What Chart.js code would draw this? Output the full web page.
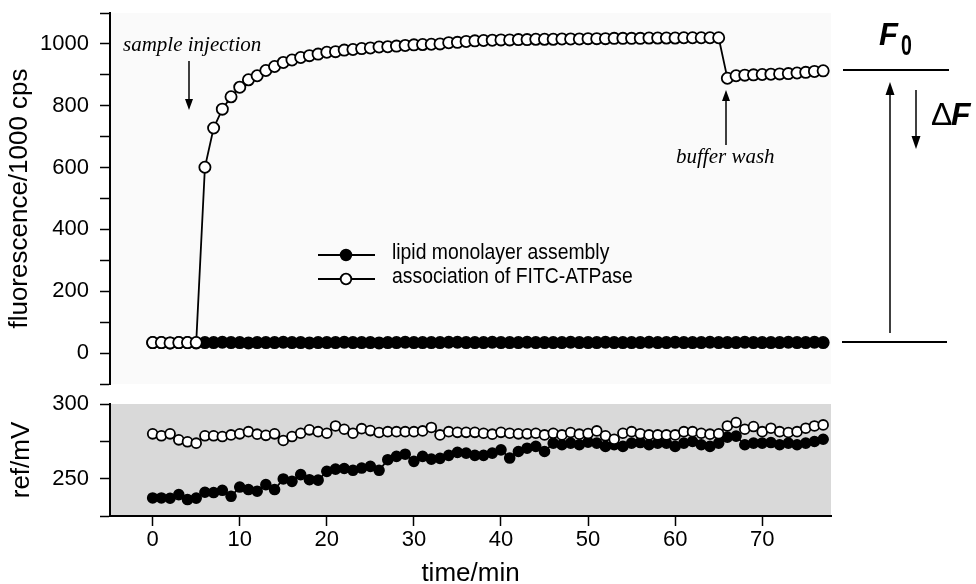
<!DOCTYPE html>
<html><head><meta charset="utf-8">
<script src="https://cdn.jsdelivr.net/npm/chart.js@4/dist/chart.umd.min.js"></script>
<style>
html,body{margin:0;padding:0;background:#fff;}
#wrap{position:relative;width:976px;height:584px;overflow:hidden;}
canvas{position:absolute;left:0;}
</style></head><body>
<div id="wrap">
<canvas id="topc" width="976" height="395" style="top:0"></canvas>
<canvas id="botc" width="976" height="196" style="top:388px"></canvas>
</div>
<script>
// ---- data ----
const time = [0,1,2,3,4,5,6,7,8,9,10,11,12,13,14,15,16,17,18,19,20,21,22,23,24,25,26,27,28,29,30,31,32,33,34,35,36,37,38,39,40,41,42,43,44,45,46,47,48,49,50,51,52,53,54,55,56,57,58,59,60,61,62,63,64,65,66,67,68,69,70,71,72,73,74,75,76,77];
const fluorAssoc = [34,34,33,34,34,34,
  601,728,789,829,860,884,897,914,927,940,948,956,962,967,973,
  975,980,982,985,987,990,991,993,995,997,998,999,1000,1004,1005,1008,1010,1011,1012,1013,
  1013,1014,1014,1015,1015,1015,1016,1016,1016,1017,1017,1017,1018,1018,1018,1018,1019,1019,1019,1019,1020,1020,1020,1020,1020,
  889,897,899,900,901,902,903,904,906,908,911,913];
const fluorLipid = [34,34,33,34,34,33,34,34,35,34,34,33,34,34,34,35,34,34,33,34,34,34,35,34,34,34,33,34,34,35,34,34,34,34,35,35,34,34,34,35,34,34,34,35,34,34,34,34,35,34,34,34,35,34,34,34,34,35,34,34,35,34,34,34,35,34,34,34,35,34,34,34,34,35,34,34,35,34];
const refAssoc = [280,278.7,280,276,274.7,273.8,278.7,278.7,278.2,279.3,280,281.5,279.8,279,280,275.6,278.2,280.4,282.7,281.5,280.4,285.3,
  283.1,280.4,283.5,282.2,280.9,281.5,281.5,281.5,281.5,282,284.3,279.3,281.5,281,281,281,280.4,279.8,281,280.4,280,280,280.4,279.3,280.4,279.3,280.9,279.8,280.2,
  282,278.7,276.4,280.4,281.5,280,279.3,279.3,279.3,279.3,281.5,281.5,280.4,279.8,280,285.3,287.6,283.1,284.9,281.5,283.8,281.5,280.9,281.5,283.8,285.3,286];
const refLipid = [237.1,237.1,236.9,239.3,236,237,240.9,240.7,242.2,238.2,244.4,242.7,241.6,246,242.7,249.8,248.2,252.7,249.3,249,254.9,256.4,256.8,
  255.6,257.1,258.2,255.6,262.7,264.9,266.4,261.6,264.9,263.1,263.6,265.6,267.6,267.1,265.6,265.6,267.1,269.3,263.8,268.2,270.4,271.6,268.2,273.8,272.7,273.8,272.7,274.5,
  273.8,271.6,272.7,271.6,273.8,274.2,272.7,273.8,273.8,271.6,273.8,274.9,272.7,271.6,273.8,277.8,278.5,272.7,273.8,273.8,274.2,272.7,273.8,272.7,273.8,274.9,276.4];
const fluorTicks = [-100,0,100,200,300,400,500,600,700,800,900,1000,1100];
const fluorLabels = [0,200,400,600,800,1000];
const refTicks = [225,250,275,300];
const refLabels = [250,300];
const timeTicks = [0,10,20,30,40,50,60,70];
const seriesNames = ['lipid monolayer assembly','association of FITC-ATPase'];

Chart.defaults.font.family = '"Liberation Sans", Arial, sans-serif';
Chart.defaults.color = '#000';

const pts = (ys) => time.map((t,i)=>({x:t,y:ys[i]}));

function arrow(ctx,x,y1,y2,hw,hl){
  const s = y2>y1?1:-1;
  ctx.beginPath(); ctx.moveTo(x,y1); ctx.lineTo(x,y2-s*hl*0.6); ctx.stroke();
  ctx.beginPath(); ctx.moveTo(x,y2); ctx.lineTo(x-hw,y2-s*hl); ctx.lineTo(x+hw,y2-s*hl); ctx.closePath(); ctx.fill();
}

const bgPlugin = (color) => ({
  id:'bg'+color.replace('#',''),
  beforeDraw(chart){
    const {ctx, chartArea:a} = chart;
    ctx.save(); ctx.fillStyle = color; ctx.fillRect(a.left, a.top, a.right-a.left, a.bottom-a.top); ctx.restore();
  }
});

const annoPlugin = {
  id:'anno',
  afterDraw(chart){
    const ctx = chart.ctx;
    ctx.save();
    ctx.strokeStyle='#000'; ctx.fillStyle='#000';
    // legend
    const items = [{y:255, filled:true, text:seriesNames[0]},{y:279, filled:false, text:seriesNames[1]}];
    items.forEach(it=>{
      ctx.lineWidth=1.8;
      ctx.beginPath(); ctx.moveTo(318,it.y); ctx.lineTo(375,it.y); ctx.stroke();
      ctx.beginPath(); ctx.arc(346,it.y,5.3,0,Math.PI*2);
      ctx.fillStyle = it.filled?'#000':'#fff'; ctx.fill(); ctx.stroke();
      ctx.save(); ctx.translate(392,it.y+4); ctx.scale(0.88,1);
      ctx.fillStyle='#000'; ctx.font='22px "Liberation Sans", Arial'; ctx.textBaseline='alphabetic';
      ctx.fillText(it.text,0,0); ctx.restore();
    });
    ctx.fillStyle='#000';
    // sample injection
    ctx.font='italic 21px "Liberation Serif", "Times New Roman", serif';
    ctx.textBaseline='alphabetic';
    ctx.fillText('sample injection',123,51);
    ctx.lineWidth=1.5;
    arrow(ctx,189,61,110,4,11);
    // buffer wash
    ctx.fillText('buffer wash',676,163);
    arrow(ctx,726,145,90,4,11);
    // right side F0 / dF
    ctx.lineWidth=1.8;
    ctx.beginPath(); ctx.moveTo(843,70); ctx.lineTo(949,70); ctx.stroke();
    ctx.beginPath(); ctx.moveTo(842,342); ctx.lineTo(947,342); ctx.stroke();
    ctx.lineWidth=1.5;
    arrow(ctx,890,333,82,4.5,13);
    arrow(ctx,916,90,149,4.5,13);
    ctx.font='italic bold 31px "Liberation Sans", Arial';
    ctx.fillText('F',879,45);
    ctx.save(); ctx.translate(901,55); ctx.scale(0.65,1);
    ctx.font='bold 30px "Liberation Sans", Arial'; ctx.fillText('0',0,0); ctx.restore();
    ctx.font='32px "Liberation Sans", Arial';
    ctx.fillText('\u0394',931,125);
    ctx.font='italic bold 32px "Liberation Sans", Arial';
    ctx.fillText('F',951,125);
    ctx.restore();
  }
};

const whiteStyle = (r)=>({borderColor:'#000', borderWidth:1.8, pointBackgroundColor:'#fff', pointBorderColor:'#000', pointBorderWidth:1.8, pointRadius:r, tension:0});
const blackStyle = (r)=>({borderColor:'#000', borderWidth:1.8, pointBackgroundColor:'#000', pointBorderColor:'#000', pointBorderWidth:1.8, pointRadius:r, tension:0});

const yFit = s=>{ s.width = 110; s.paddingTop = 0; s.paddingBottom = 0; };

new Chart(document.getElementById('topc'), {
  type:'line',
  data:{datasets:[
    Object.assign({label:seriesNames[1], data:pts(fluorAssoc)}, whiteStyle(5.6)),
    Object.assign({label:seriesNames[0], data:pts(fluorLipid)}, blackStyle(5.6))
  ]},
  options:{
    responsive:false, animation:false, devicePixelRatio:1,
    layout:{padding:{left:0,right:145,top:13,bottom:11}},
    plugins:{legend:{display:false}, tooltip:{enabled:false}},
    scales:{
      x:{type:'linear', min:-4.9, max:77.9, display:false},
      y:{
        min:-100, max:1100,
        afterFit: yFit,
        afterBuildTicks: s=>{ s.ticks = fluorTicks.map(v=>({value:v})); },
        grid:{drawOnChartArea:false, drawTicks:true, tickLength:10, tickColor:'#000', tickWidth:1.5},
        border:{color:'#000', width:2},
        ticks:{autoSkip:false, padding:11, color:'#000', font:{size:22, lineHeight:1},
          callback:v=> fluorLabels.includes(v) ? String(v) : ''},
        title:{display:true, text:'fluorescence/1000 cps', color:'#000', font:{size:26, lineHeight:1}, padding:{top:7,bottom:0}}
      }
    }
  },
  plugins:[bgPlugin('#fafafa'), annoPlugin]
});

new Chart(document.getElementById('botc'), {
  type:'line',
  data:{datasets:[
    Object.assign({label:seriesNames[1], data:pts(refAssoc)}, whiteStyle(4.9)),
    Object.assign({label:seriesNames[0], data:pts(refLipid)}, blackStyle(4.9))
  ]},
  options:{
    responsive:false, animation:false, devicePixelRatio:1,
    layout:{padding:{left:0,right:145,top:16,bottom:0}},
    plugins:{legend:{display:false}, tooltip:{enabled:false}},
    scales:{
      x:{type:'linear', min:-4.9, max:77.9,
        afterFit: s=>{ s.height = 68; s.paddingLeft = 0; s.paddingRight = 0; },
        afterBuildTicks: s=>{ s.ticks = timeTicks.map(v=>({value:v})); },
        ticks:{autoSkip:false, maxRotation:0, padding:3, color:'#000', font:{size:22, lineHeight:1}},
        grid:{drawOnChartArea:false, drawTicks:true, tickLength:10, tickColor:'#000', tickWidth:1.5},
        border:{color:'#000', width:2},
        title:{display:true, text:'time/min', color:'#000', font:{size:26, lineHeight:0.8}, padding:{top:0,bottom:0}}
      },
      y:{
        min:225, max:300,
        afterFit: yFit,
        afterBuildTicks: s=>{ s.ticks = refTicks.map(v=>({value:v})); },
        grid:{drawOnChartArea:false, drawTicks:true, tickLength:10, tickColor:'#000', tickWidth:1.5},
        border:{color:'#000', width:2},
        ticks:{autoSkip:false, padding:11, color:'#000', font:{size:22, lineHeight:1},
          callback:v=> refLabels.includes(v) ? String(v) : ''},
        title:{display:true, text:'ref/mV', color:'#000', font:{size:26, lineHeight:1}, padding:{top:9,bottom:0}}
      }
    }
  },
  plugins:[bgPlugin('#d9d9d9')]
});
</script>
</body></html>
